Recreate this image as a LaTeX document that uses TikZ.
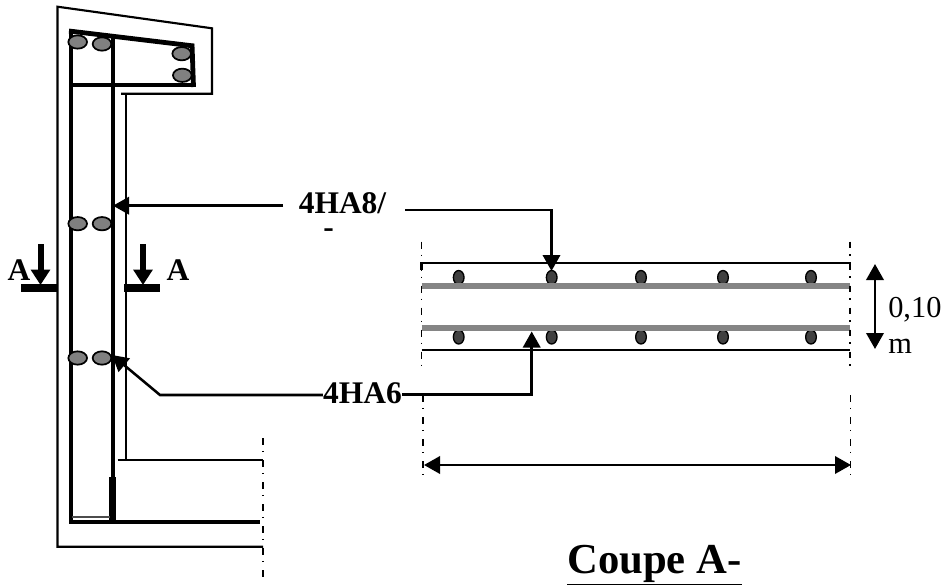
\documentclass[tikz,border=0pt]{standalone}
\usepackage{fontspec}
\setmainfont{Liberation Serif}
\usetikzlibrary{arrows.meta,shapes.geometric}
\definecolor{gray50}{HTML}{808080}
\definecolor{graybar}{HTML}{858585}
\definecolor{dark}{HTML}{404040}
\tikzset{
 px/.style={x=0.75pt,y=-0.75pt},
 fine/.style={line width=1.6pt},
 rebar/.style={line width=3.6pt},
 rebarb/.style={line width=3pt},
 gbar/.style={draw=graybar,line width=4.5pt},
 oval/.style={ellipse,draw=black,fill=gray50,line width=1.3pt,minimum width=14pt,minimum height=10pt,inner sep=0pt},
 dot/.style={ellipse,draw=black,fill=dark,line width=1pt,minimum width=8pt,minimum height=10.5pt,inner sep=0pt},
 chain/.style={line width=1.4pt,dash pattern=on 5.2pt off 4.5pt on 1.1pt off 5.7pt},
 lead/.style={line width=1.9pt,-{Triangle[length=12pt,width=13pt]}},
 dim/.style={line width=1.9pt,{Triangle[length=12pt,width=13pt]}-{Triangle[length=12pt,width=13pt]}},
 cutarrow/.style={line width=4.5pt,-{Triangle[length=11.5pt,width=14pt]}},
 lab/.style={font=\fontsize{22.8}{24}\selectfont,inner sep=0pt,anchor=base},
 blab/.style={font=\fontsize{23.6}{25}\selectfont\bfseries,inner sep=0pt,anchor=base},
}
\begin{document}
\begin{tikzpicture}[px]
\useasboundingbox (0,0) rectangle (946,585);
% concrete outline
\draw[fine,line join=miter] (121,93.7) -- (212,93.7) -- (212,28.3) -- (57.5,6.7) -- (57.5,546.7) -- (263,546.7);
\draw[fine] (126,93.7) -- (126,460);
\draw[fine] (117.7,460) -- (263,460);
% rebars
\draw[rebar] (71,29.5) -- (71,524);
\draw[rebar] (69,31) -- (194,46);
\draw[rebar] (71,85) -- (194,85);
\draw[rebar] (192,44) -- (193.5,87);
\draw[rebarb] (112.5,36) -- (112.5,524);
\draw[line width=4.8pt] (112.5,477) -- (112.5,524);
\draw[rebar] (69,522) -- (259.5,522);
\draw[line width=1.6pt,draw=black!70] (72,517) -- (110,517);
% bars
\node[oval] (o1) at (77.7,42) {};
\node[oval] (o2) at (102,44) {};
\node[oval] (o3) at (181.7,53.7) {};
\node[oval] (o4) at (182.3,75.3) {};
\node[oval] (o5) at (77.7,223.7) {};
\node[oval] (o6) at (102,223.7) {};
\node[oval] (o7) at (77.7,358) {};
\node[oval] (o8) at (102,358) {};
% section A-A marks
\fill (21,284) rectangle (57,291.5);
\fill (124,284) rectangle (160,291.5);
\coordinate (ca1) at (40.5,244); \coordinate (ca2) at (40.5,285);
\coordinate (cb1) at (143,244); \coordinate (cb2) at (143,285);
\draw[cutarrow] (ca1) -- (ca2);
\draw[cutarrow] (cb1) -- (cb2);
\node[blab] (aL) at (19,280) {A};
\node[blab] (aR) at (178,280) {A};
% labels
\node[blab,align=center,font=\fontsize{23.6}{17.5}\selectfont\bfseries] (l8) at (342.5,237) {4HA8/\\-\rule{21pt}{0pt}};
\node[blab] (l6) at (362.5,403) {4HA6};
% section
\draw[fine] (421.5,270) -- (421.5,263.3) -- (850,263.3) -- (850,270);
\draw[fine] (421.5,350) -- (850,350);
\foreach \n/\x in {a/458.7,b/551.7,c/641,d/723,e/811}{
 \node[dot] (t\n) at (\x,277.5) {};
 \node[dot] (u\n) at (\x,337) {};
}
\draw[gbar] (421.5,285.7) -- (850,285.7);
\draw[gbar] (421.5,328) -- (850,328);
\draw[chain] (421.5,241.7) -- (421.5,368);
\draw[chain] (850,241.5) -- (850,368);
\draw[chain] (423,395) -- (423,477);
\draw[chain] (850.5,395) -- (850.5,477);
\draw[chain] (263,438) -- (263,578);
% leaders
\coordinate (s1) at (283,205.7); \coordinate (s2) at (405,210); \coordinate (k2) at (551.5,210);
\coordinate (t1) at (113,205.7); \coordinate (t2) at (551.5,271);
\draw[lead] (s1) -- (t1);
\draw[lead] (s2) -- (k2) -- (t2);
\coordinate (k3) at (160,395); \coordinate (t3) at (112,355);
\coordinate (k4) at (531.7,394.5); \coordinate (t4) at (531.7,331.5);
\draw[lead] (l6.west |- k3) -- (k3) -- (t3);
\draw[lead] (l6.east |- k4) -- (k4) -- (t4);
% dimensions
\coordinate (d1) at (875,264); \coordinate (d2) at (875,349);
\coordinate (d3) at (424,465); \coordinate (d4) at (851,465);
\draw[dim] (d1) -- (d2);
\draw[dim] (d3) -- (d4);
\node[lab,anchor=base west] (v1) at (888,317) {0,10};
\node[lab,anchor=base west] (v2) at (888,353) {m};
\node[font=\fontsize{32}{34}\selectfont\bfseries,inner sep=0pt,anchor=base west] (cp) at (567,573) {\underline{Coupe A-}};
\end{tikzpicture}
\end{document}
